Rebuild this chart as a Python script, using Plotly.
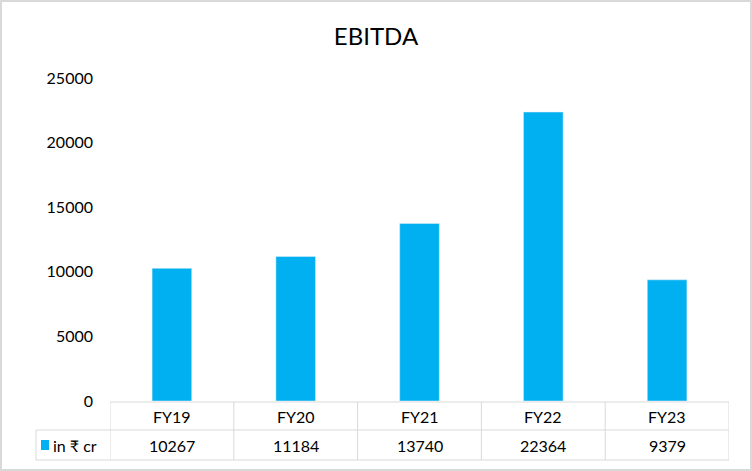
import plotly.graph_objects as go

categories = ["FY19", "FY20", "FY21", "FY22", "FY23"]
values = [10267, 11184, 13740, 22364, 9379]
series_name = "in ₹ cr"
title_text = "EBITDA"
y_ticks = [0, 5000, 10000, 15000, 20000, 25000]

W, H = 752, 471
L, R, T, B = 110, 23, 78, 70
PW, PH = W - L - R, H - T - B
BLUE = "#00b0f0"
GRID = "#d9d9d9"
FONT = "Lato"
FS = 16

def px(x):
    return (x - L) / PW

def py(y):
    return (H - B - y) / PH

fig = go.Figure()
fig.add_trace(go.Bar(x=list(range(len(categories))), y=values, marker_color=BLUE,
                     width=0.32, name=series_name, showlegend=False))

shapes = []
# outer border
shapes.append(dict(type="rect", xref="paper", yref="paper", x0=px(1), x1=px(W - 1),
                   y0=py(H - 1), y1=py(1), line=dict(color=GRID, width=2)))
row_top, row_mid, row_bot = 402, 430, 460
n = len(categories)
shapes.append(dict(type="line", xref="x", yref="paper", x0=-0.5, x1=n - 0.5,
                   y0=py(row_top), y1=py(row_top), line=dict(color=GRID, width=1)))
for yy in (row_mid, row_bot):
    shapes.append(dict(type="line", xref="paper", yref="paper", x0=px(36), x1=1,
                       y0=py(yy), y1=py(yy), line=dict(color=GRID, width=1)))
shapes.append(dict(type="line", xref="paper", yref="paper", x0=px(36), x1=px(36),
                   y0=py(row_mid), y1=py(row_bot), line=dict(color=GRID, width=1)))
for i in range(n + 1):
    shapes.append(dict(type="line", xref="x", yref="paper", x0=i - 0.5, x1=i - 0.5,
                       y0=py(row_top), y1=py(row_bot), line=dict(color=GRID, width=1)))
# legend key
shapes.append(dict(type="rect", xref="paper", yref="paper", x0=px(41), x1=px(49),
                   y0=py(450), y1=py(440), fillcolor=BLUE, line=dict(width=0)))

annotations = []
for i, (c, v) in enumerate(zip(categories, values)):
    annotations.append(dict(x=i, y=py((row_top + row_mid) / 2), xref="x", yref="paper",
                            yanchor="middle", text=c, showarrow=False,
                            font=dict(size=FS, color="#000", family=FONT)))
    annotations.append(dict(x=i, y=py((row_mid + row_bot) / 2), xref="x", yref="paper",
                            yanchor="middle", text=str(v), showarrow=False,
                            font=dict(size=FS, color="#000", family=FONT)))
annotations.append(dict(x=px(51), y=py((row_mid + row_bot) / 2), xref="paper", yref="paper",
                        xanchor="left", yanchor="middle", text=series_name, showarrow=False,
                        font=dict(size=FS, color="#000", family=FONT)))

fig.update_layout(
    width=W, height=H,
    margin=dict(l=L, r=R, t=T, b=B, pad=0),
    paper_bgcolor="white", plot_bgcolor="white",
    title=dict(text=title_text, x=0.5, xref="container", xanchor="center", y=1 - 37 / H,
               yref="container", yanchor="middle",
               font=dict(size=24, color="#000", family=FONT)),
    font=dict(family=FONT, color="#000"),
    shapes=shapes, annotations=annotations,
)
fig.update_xaxes(range=[-0.5, n - 0.5], showticklabels=False, showgrid=False,
                 zeroline=False, showline=False, ticks="")
fig.update_yaxes(range=[0, 25000], tickvals=y_ticks, tickformat="d", showgrid=False,
                 zeroline=False, showline=False, ticks="", ticklabelstandoff=16,
                 tickfont=dict(size=FS, color="#000", family=FONT))

fig.write_html("out.html", config={"displayModeBar": False},
               post_script="document.body.style.margin='0';")
